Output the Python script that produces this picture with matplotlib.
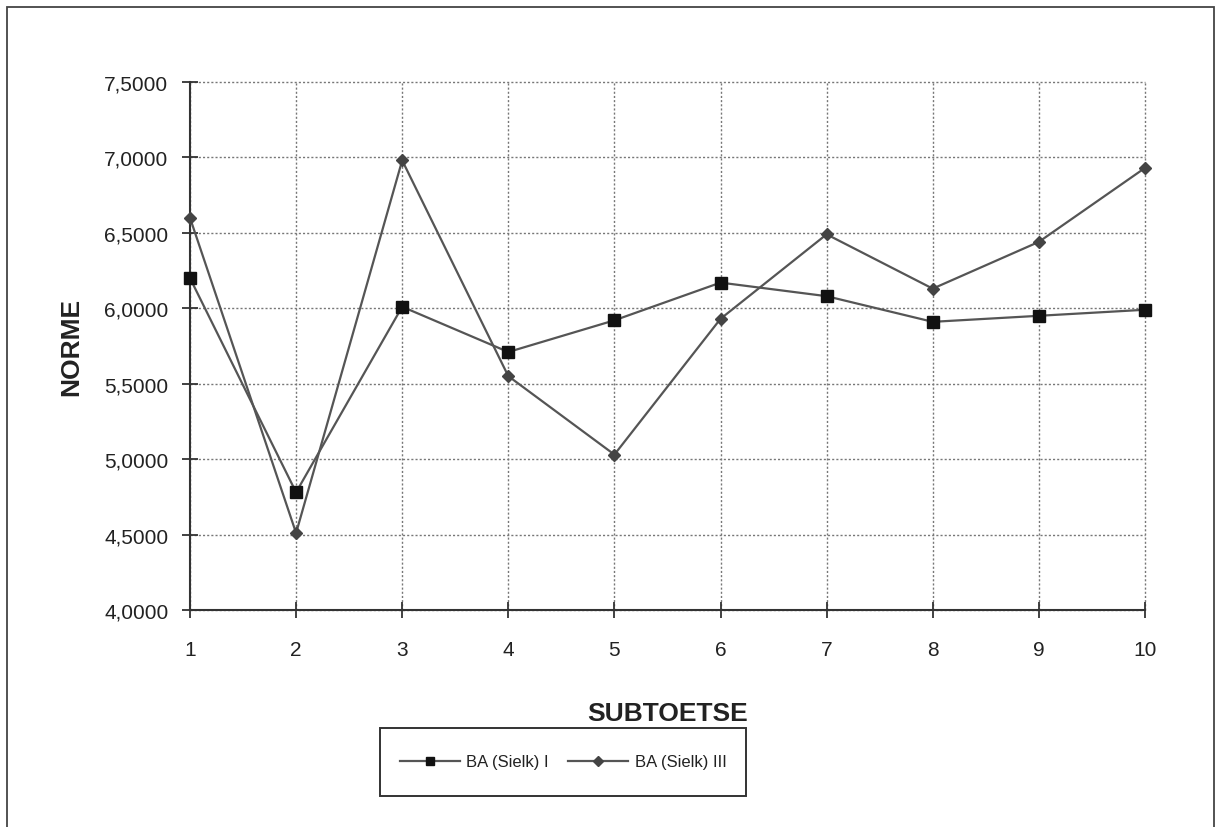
import matplotlib.pyplot as plt
from matplotlib.patches import Rectangle
from matplotlib.ticker import FuncFormatter

plt.rcParams['font.family'] = ['Liberation Sans', 'DejaVu Sans']

subtests = [1, 2, 3, 4, 5, 6, 7, 8, 9, 10]
sielk_i = [6.20, 4.78, 6.01, 5.71, 5.92, 6.17, 6.08, 5.91, 5.95, 5.99]
sielk_iii = [6.60, 4.51, 6.98, 5.55, 5.03, 5.93, 6.49, 6.13, 6.44, 6.93]
labels = ['BA (Sielk) I', 'BA (Sielk) III']

fig = plt.figure(figsize=(12.17, 8.28), dpi=100)
ax = fig.add_axes([0.1561, 0.2621, 0.7847, 0.6377])

line_col = '#555555'
ax.plot(subtests, sielk_i, color=line_col, lw=1.6, marker='s', ms=8,
        mfc='#111111', mec='#111111', label=labels[0], zorder=3, clip_on=False)
ax.plot(subtests, sielk_iii, color=line_col, lw=1.6, marker='D', ms=6.5,
        mfc='#444444', mec='#444444', label=labels[1], zorder=3, clip_on=False)

ax.set_xlim(1, 10)
ax.set_ylim(4.0, 7.5)
ax.set_xticks(subtests)
ax.set_yticks([4.0, 4.5, 5.0, 5.5, 6.0, 6.5, 7.0, 7.5])
ax.yaxis.set_major_formatter(FuncFormatter(lambda v, p: f'{v:.4f}'.replace('.', ',')))
ax.grid(True, color='#777777', ls=(0, (1.5, 1.5)), lw=1.0)
for g in ax.xaxis.get_gridlines() + ax.yaxis.get_gridlines():
    g.set_clip_on(False)

for s in ['top', 'right']:
    ax.spines[s].set_visible(False)
for s in ['left', 'bottom']:
    ax.spines[s].set_color('#333333')
    ax.spines[s].set_linewidth(1.5)

ax.tick_params(direction='inout', length=11, width=1.3, color='#333333',
               labelsize=15, labelcolor='#222222')
ax.tick_params(axis='y', pad=10)
ax.tick_params(axis='x', pad=16)

ax.set_xlabel('SUBTOETSE', fontsize=19, fontweight='bold', color='#222222', labelpad=30)
ax.set_ylabel('NORME', fontsize=19, fontweight='bold', color='#222222', labelpad=15)

leg = fig.legend(loc='center', bbox_to_anchor=(563 / 1217, 1 - 763 / 828), ncol=2,
                 frameon=False, handlelength=3.6, columnspacing=1.15, handletextpad=0.4,
                 fontsize=12, markerscale=0.8)
for t in leg.get_texts():
    t.set_color('#222222')

# legend box and outer chart border
fig.patches.append(Rectangle((380 / 1217, 1 - 797 / 828), 366 / 1217, 68 / 828,
                             transform=fig.transFigure, fill=False,
                             edgecolor='#333333', lw=1.4))
fig.patches.append(Rectangle((7 / 1217, -0.01), 1207 / 1217, 1 - 8 / 828 + 0.01,
                             transform=fig.transFigure, fill=False,
                             edgecolor='#444444', lw=1.3))

fig.savefig('out.png', dpi=100)
